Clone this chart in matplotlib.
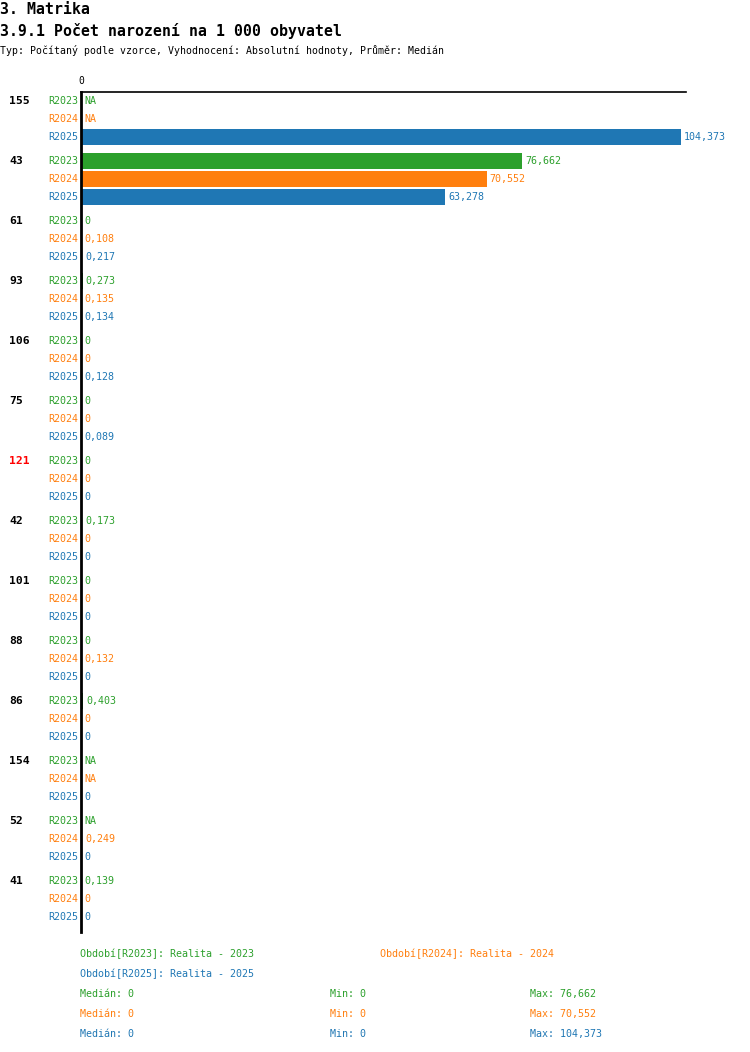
import matplotlib
matplotlib.use("Agg")
import matplotlib.pyplot as plt
from matplotlib.transforms import blended_transform_factory
import numpy as np

plt.rcParams['font.family'] = ['DejaVu Sans Mono']

# data
groups = ['155', '43', '61', '93', '106', '75', '121', '42', '101', '88', '86', '154', '52', '41']
highlight = '121'
series = ['R2023', 'R2024', 'R2025']
colors = ['#2ca02c', '#ff7f0e', '#1f77b4']
NA = None
r2023 = [NA, 76.662, 0, 0.273, 0, 0, 0, 0.173, 0, 0, 0.403, NA, NA, 0.139]
r2024 = [NA, 70.552, 0.108, 0.135, 0, 0, 0, 0, 0, 0.132, 0, NA, 0.249, 0]
r2025 = [104.373, 63.278, 0.217, 0.134, 0.128, 0.089, 0, 0, 0, 0, 0, 0, 0, 0]
values = [r2023, r2024, r2025]
legend_names = ['Období[R2023]: Realita - 2023', 'Období[R2024]: Realita - 2024',
                'Období[R2025]: Realita - 2025']


def fmt(v):
    if v is None:
        return 'NA'
    if v == 0:
        return '0'
    return f'{v:.3f}'.replace('.', ',')


W, H = 750, 1052
fig = plt.figure(figsize=(W / 100, H / 100), dpi=100)

# headings
fig.text(0, 1 - 9 / H, '3. Matrika', fontsize=10.7, fontweight='bold', va='center')
fig.text(0, 1 - 31 / H, '3.9.1 Počet narození na 1 000 obyvatel', fontsize=10.7,
         fontweight='bold', va='center')
fig.text(0, 1 - 50 / H, 'Typ: Počítaný podle vzorce, Vyhodnocení: Absolutní hodnoty, Průměr: Medián',
         fontsize=7.1, va='center')

# plot area in pixels: x 81..686, y 92..932
ax_l, ax_r, ax_t, ax_b = 81, 686, 92, 932
ax = fig.add_axes([ax_l / W, 1 - ax_b / H, (ax_r - ax_l) / W, (ax_b - ax_t) / H])
xmax = 105.2
ax.set_xlim(0, xmax)
ax.set_ylim(ax_b - ax_t, 0)
for s in ['right', 'bottom']:
    ax.spines[s].set_visible(False)
ax.spines['left'].set_linewidth(2)
ax.spines['top'].set_linewidth(1.2)
ax.set_xticks([0])
ax.set_xticklabels(['0'])
ax.tick_params(axis='x', top=True, bottom=False, labeltop=True, labelbottom=False,
               length=0, pad=4, labelsize=7)
ax.set_yticks([])

px = (ax_r - ax_l) / xmax
lab_tr = blended_transform_factory(fig.transFigure, ax.transData)

for g, name in enumerate(groups):
    for j, s in enumerate(series):
        y = 9 + g * 60 + j * 18
        v = values[j][g]
        c = colors[j]
        if v is not None and v > 0:
            ax.barh(y, v, height=16, color=c, left=0)
        end = (v or 0)
        ax.text(end + 3 / px, y, fmt(v), color=c, fontsize=7.2, va='center', ha='left')
        ax.text(78 / W, y, s, color=c, fontsize=7.2, va='center', ha='right', transform=lab_tr)
    ax.text(9 / W, 9 + g * 60, name, fontsize=8.2, fontweight='bold', va='center', ha='left',
            color='red' if name == highlight else 'black', transform=lab_tr)

# legend
fs = 7.2
fig.text(80 / W, 1 - 954 / H, legend_names[0], color=colors[0], fontsize=fs, va='center')
fig.text(380 / W, 1 - 954 / H, legend_names[1], color=colors[1], fontsize=fs, va='center')
fig.text(80 / W, 1 - 974 / H, legend_names[2], color=colors[2], fontsize=fs, va='center')
for j, vals in enumerate(values):
    nums = np.array([v for v in vals if v is not None])
    y = 1 - (994 + 20 * j) / H
    fig.text(80 / W, y, 'Medián: ' + fmt(float(np.median(nums))), color=colors[j], fontsize=fs, va='center')
    fig.text(330 / W, y, 'Min: ' + fmt(float(nums.min())), color=colors[j], fontsize=fs, va='center')
    fig.text(530 / W, y, 'Max: ' + fmt(float(nums.max())), color=colors[j], fontsize=fs, va='center')

fig.savefig('out.png', dpi=100)
